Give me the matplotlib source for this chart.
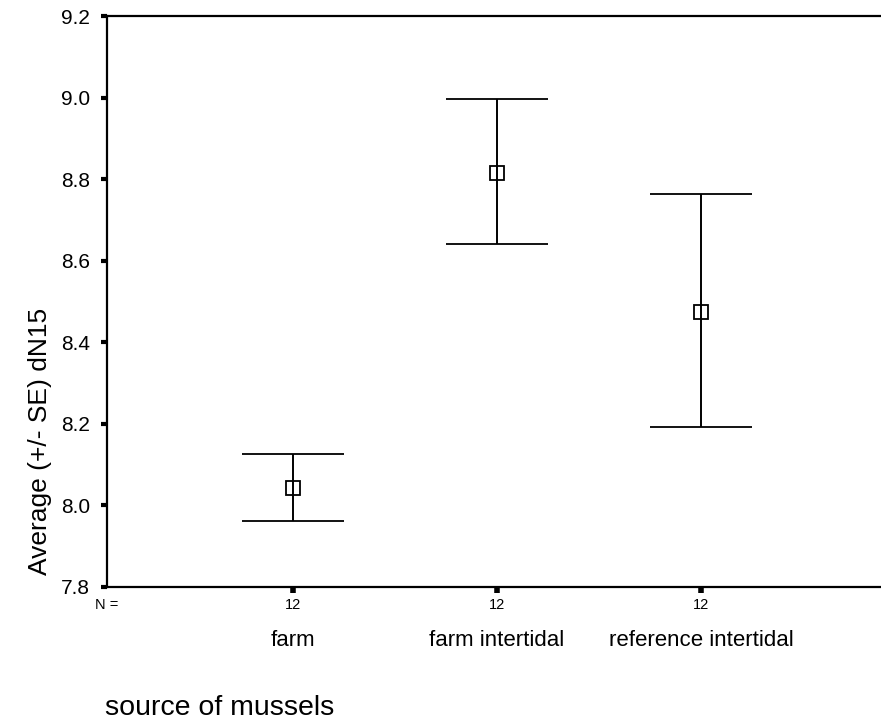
import matplotlib
matplotlib.use("Agg")
import matplotlib.pyplot as plt
import numpy as np

# Mean dN15 by mussel source with +/- 1 SE bounds
categories = ["farm", "farm intertidal", "reference intertidal"]
n_counts = [12, 12, 12]
means = [8.043, 8.815, 8.474]
upper = [8.126, 8.996, 8.763]
lower = [7.962, 8.641, 8.192]
y_ticks = [7.8, 8.0, 8.2, 8.4, 8.6, 8.8, 9.0, 9.2]

plt.rcParams["font.family"] = ["Liberation Sans", "DejaVu Sans"]

W, H = 881, 722
fig = plt.figure(figsize=(W / 100, H / 100), dpi=100)
ax = fig.add_axes([107 / W, (H - 587) / H, (W - 107) / W, (587 - 16) / H])

x = np.arange(1, len(categories) + 1)
m = np.array(means)
err = [m - np.array(lower), np.array(upper) - m]
ax.errorbar(x, m, yerr=err, fmt="s", mfc="none", mec="black", mew=1.3, ms=9.5,
            ecolor="black", elinewidth=1.4, capsize=37, capthick=1.4, color="black")

ax.set_xlim(1 - 186 / 204, 3 + 180 / 204)
ax.set_ylim(7.8, 9.2)
ax.set_yticks(y_ticks)
ax.set_yticklabels([f"{v:.1f}" for v in y_ticks], fontsize=15)
ax.set_xticks(x)
ax.set_xticklabels([])

ax.spines["right"].set_visible(False)
for s in ("left", "bottom", "top"):
    ax.spines[s].set_linewidth(1.6)
ax.tick_params(axis="y", direction="out", length=4, width=3, pad=8)
ax.tick_params(axis="x", direction="out", length=4, width=4)

xt = ax.get_xaxis_transform()
for xi, n, c in zip(x, n_counts, categories):
    ax.text(xi, -0.0315, str(n), transform=xt, ha="center", va="center", fontsize=10.5)
    ax.text(xi, -0.093, c, transform=xt, ha="center", va="center", fontsize=16)

fig.text(107 / W, 1 - 605 / H, "N =", ha="center", va="center", fontsize=10.5)
fig.text(40 / W, 1 - 441 / H, "Average (+/- SE) dN15", rotation=90,
         ha="center", va="center", fontsize=19)
fig.text(105 / W, 1 - 708 / H, "source of mussels", ha="left", va="center", fontsize=20.5)

fig.savefig("out.png", dpi=100)
